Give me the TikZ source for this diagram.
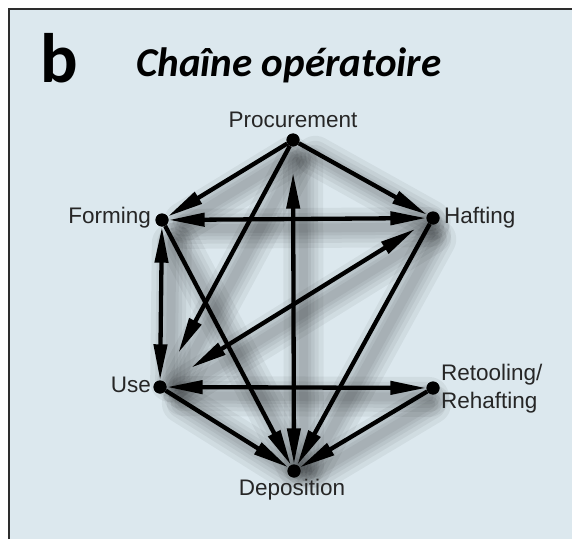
\documentclass[tikz,border=0pt]{standalone}
\usepackage{fontspec}
\setmainfont{Liberation Sans}
\newfontfamily\titlefont{Carlito}
\usetikzlibrary{arrows.meta}
\definecolor{bg}{RGB}{220,232,238}
\definecolor{frame}{RGB}{45,45,45}
\begin{document}
\begin{tikzpicture}[x=1pt,y=1pt,
  dot/.style={circle,fill=black,inner sep=0pt,minimum size=13pt},
  lab/.style={font=\fontsize{22.5}{28}\selectfont,inner sep=0pt,text=black!85},
  tip/.tip={Triangle[length=36pt,width=13pt]},
  edge/.style={line width=4.3pt,-tip},
  both/.style={line width=4.3pt,tip-tip},
  shadowline/.style={line cap=round,black,opacity=0.05}
]
\useasboundingbox (0,0) rectangle (572,539);
\fill[white] (0,0) rectangle (572,539);
\fill[bg] (9,0) rectangle (572,530);
\draw[line width=2pt,frame] (9,0) -- (9,530) -- (572,530);

\node[anchor=base west,inner sep=0pt,font=\titlefont\bfseries\fontsize{70}{70}\selectfont] (b) at (40,456) {b};
\node[anchor=base west,inner sep=0pt,font=\titlefont\bfseries\itshape\fontsize{41}{41}\selectfont] (title) at (136,462) {Chaîne opératoire};

\coordinate (P) at (293,399);
\coordinate (F) at (162,319);
\coordinate (H) at (433,321);
\coordinate (U) at (160,152);
\coordinate (R) at (433,151);
\coordinate (D) at (294,68);

\foreach \a/\b in {P/F,P/H,P/U,P/D,F/H,F/U,F/D,H/U,H/D,U/R,U/D,R/D}{
  \foreach \w in {40,30,22,15,9}{
    \draw[shadowline,line width=\w pt,shorten <=14pt,shorten >=14pt] ([shift={(10,-9)}]\a) -- ([shift={(10,-9)}]\b);
  }
}

\node[dot] (p) at (P) {};
\node[dot] (f) at (F) {};
\node[dot] (h) at (H) {};
\node[dot] (u) at (U) {};
\node[dot] (r) at (R) {};
\node[dot] (d) at (D) {};

\draw[edge] (p) -- (f);
\draw[edge] (p) -- (h);
\draw[edge,shorten >=32pt] (p) -- (u);
\draw[both,shorten <=26pt] (p) -- (d);
\draw[both] (f) -- (h);
\draw[both] (f) -- (u);
\draw[edge] (f) -- (d);
\draw[both,shorten <=14pt,shorten >=30pt] (h) -- (u);
\draw[edge] (h) -- (d);
\draw[both] (u) -- (r);
\draw[edge] (u) -- (d);
\draw[edge] (r) -- (d);

\node[dot] at (P) {};
\node[dot] at (F) {};
\node[dot] at (H) {};
\node[dot] at (U) {};
\node[dot] at (R) {};
\node[dot] at (D) {};

\node[lab,anchor=south] (lp) at (293,411) {Procurement};
\node[lab,anchor=east] (lf) at (151,321) {Forming};
\node[lab,anchor=west] (lh) at (444,321) {Hafting};
\node[lab,anchor=east] (lu) at (151,154) {Use};
\node[lab,anchor=west,align=left] (lr) at (441,150) {Retooling/\\Rehafting};
\node[lab,anchor=north] (ld) at (292,60) {Deposition};
\end{tikzpicture}
\end{document}
